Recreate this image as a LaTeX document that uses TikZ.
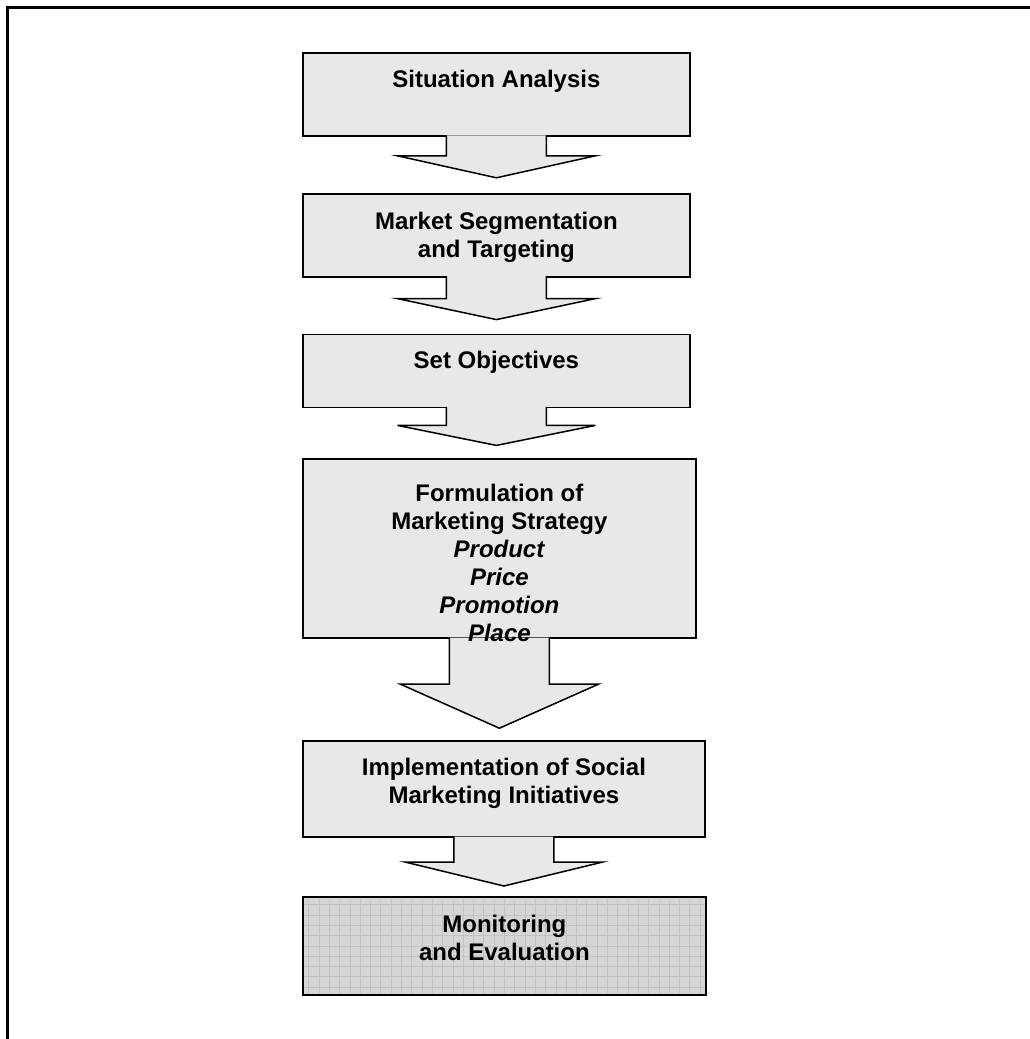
\documentclass[tikz,border=0pt]{standalone}
\usepackage{fontspec}
\setmainfont{Liberation Sans}
\usepackage{tikz}
\usetikzlibrary{backgrounds, calc, positioning}
\pgfdeclarelayer{arrows}
\pgfsetlayers{background,arrows,main}
\definecolor{boxgray}{RGB}{232,232,232}
\definecolor{gridfill}{RGB}{214,214,214}
\definecolor{gridline}{RGB}{194,194,194}

% block arrow: from box, to box, shaft length, gap left above the next box
\newcommand{\blockarrow}[4]{%
  \draw[flow] ($(#1.south)+(-50,1.5)$) -- ++(0,-#3-1.5) -- ++(-49,0)
    -- ($(#1.south |- #2.north)+(0,#4)$)
    -- ($(#1.south)+(99,-#3)$) -- ++(-49,0) -- ($(#1.south)+(50,1.5)$);}

\begin{document}
\begin{tikzpicture}[
    x=1pt, y=1pt,
    box/.style={rectangle, draw, line width=1.8pt, fill=boxgray, inner sep=0pt},
    gridbox/.style={box, fill=gridfill, path picture={\draw[gridline, line width=0.8pt] (path picture bounding box.south west) grid[step=10.3pt] (path picture bounding box.north east);}},
    boxtext/.style={font=\fontsize{24}{28}\selectfont\bfseries, align=center, inner sep=0pt},
    flow/.style={draw, line width=1.5pt, fill=boxgray, line join=miter},
    frame/.style={line width=2.7pt}
]
\useasboundingbox (0,0) rectangle (1030,-1039);
\draw[frame] (7.3,-1040) -- (7.3,-7.3) -- (1031,-7.3);
% Boxes
\begin{scope}[on background layer]
\node[box, minimum width=387pt, minimum height=83pt, anchor=north west] (sa) at (302,-52) {};
\node[box, minimum width=387pt, minimum height=83pt, below=56pt of sa.south west, anchor=north west] (mst) {};
\node[box, minimum width=387pt, minimum height=73pt, below=56pt of mst.south west, anchor=north west] (so) {};
\node[box, minimum width=393pt, minimum height=179pt, below=50pt of so.south west, anchor=north west] (fms) {};
\node[box, minimum width=402pt, minimum height=96pt, below=101pt of fms.south west, anchor=north west] (imp) {};
\node[gridbox, minimum width=403pt, minimum height=98pt, below=58pt of imp.south west, anchor=north west] (mon) {};
\end{scope}
% Arrows
\begin{pgfonlayer}{arrows}
\blockarrow{sa}{mst}{19}{15}
\blockarrow{mst}{so}{21}{14}
\blockarrow{so}{fms}{17}{13}
\blockarrow{fms}{imp}{45}{12}
\blockarrow{imp}{mon}{24}{10}
\end{pgfonlayer}
% Texts (base = last line)
\node[boxtext, below=35pt of sa.north, anchor=base] (satext) {Situation Analysis};
\node[boxtext, below=65pt of mst.north, anchor=base] (msttext) {Market Segmentation\\and Targeting};
\node[boxtext, below=35pt of so.north, anchor=base] (sotext) {Set Objectives};
\node[boxtext, below=183pt of fms.north, anchor=base] (fmstext) {Formulation of\\Marketing Strategy\\\textit{Product}\\\textit{Price}\\\textit{Promotion}\\\textit{Place}};
\node[boxtext, below=63pt of imp.north, anchor=base] (imptext) {Implementation of Social\\Marketing Initiatives};
\node[boxtext, below=64pt of mon.north, anchor=base] (montext) {Monitoring\\and Evaluation};
\end{tikzpicture}
\end{document}
